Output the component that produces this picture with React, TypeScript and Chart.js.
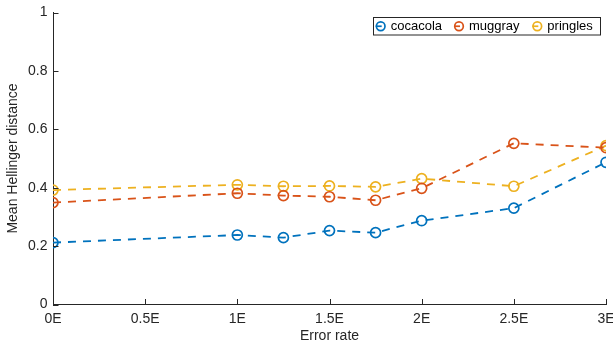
import React, { useEffect, useRef } from "react";
import { Chart, registerables } from "chart.js";

Chart.register(...registerables);

const errorRates = [0, 1, 1.25, 1.5, 1.75, 2, 2.5, 3];
const cocacola = [0.212, 0.238, 0.229, 0.253, 0.246, 0.287, 0.33, 0.487];
const muggray = [0.349, 0.381, 0.373, 0.369, 0.357, 0.398, 0.552, 0.537];
const pringles = [0.392, 0.41, 0.405, 0.406, 0.403, 0.431, 0.405, 0.544];
const seriesNames = ["cocacola", "muggray", "pringles"];
const seriesColors = ["#0072BD", "#D95319", "#EDB120"];

const FONT = "'Liberation Sans', Arial, Helvetica, sans-serif";
const AXIS = "#262626";

const tickMarks = {
  id: "tickMarks",
  afterDraw(chart: any) {
    const { ctx, chartArea } = chart;
    const xs = chart.scales.x;
    const ys = chart.scales.y;
    ctx.save();
    ctx.strokeStyle = AXIS;
    ctx.lineWidth = 1;
    ctx.beginPath();
    xs.ticks.forEach((t: any) => {
      const px = Math.round(xs.getPixelForValue(t.value)) + 0.5;
      ctx.moveTo(px, chartArea.bottom);
      ctx.lineTo(px, chartArea.bottom - 5.5);
    });
    ys.ticks.forEach((t: any) => {
      const py = Math.round(ys.getPixelForValue(t.value)) + 0.5;
      ctx.moveTo(chartArea.left, py);
      ctx.lineTo(chartArea.left + 5.5, py);
    });
    ctx.stroke();
    ctx.restore();
  },
};

const boxLegend = {
  id: "boxLegend",
  afterDatasetsDraw(chart: any) {
    const { ctx } = chart;
    const ds = chart.data.datasets;
    ctx.save();
    ctx.font = `13px ${FONT}`;
    const maxW = Math.max(...ds.map((d: any) => ctx.measureText(d.label).width));
    const pitch = maxW + 27;
    const boxL = 373.5;
    const boxT = 17.5;
    const boxR = 600.5;
    const boxB = 35;
    ctx.fillStyle = "#ffffff";
    ctx.fillRect(boxL, boxT, boxR - boxL, boxB - boxT);
    ctx.strokeStyle = AXIS;
    ctx.lineWidth = 1;
    ctx.strokeRect(boxL, boxT, boxR - boxL, boxB - boxT);
    const cy = (boxT + boxB) / 2;
    ds.forEach((d: any, i: number) => {
      const cx = 380.7 + i * pitch;
      ctx.strokeStyle = d.borderColor;
      ctx.lineWidth = 1.7;
      ctx.beginPath();
      ctx.moveTo(cx - 5, cy);
      ctx.lineTo(cx + 1, cy);
      ctx.stroke();
      ctx.beginPath();
      ctx.arc(cx, cy, 4.3, 0, Math.PI * 2);
      ctx.stroke();
      ctx.fillStyle = "#000000";
      ctx.textBaseline = "middle";
      ctx.textAlign = "left";
      ctx.fillText(d.label, cx + 10, cy + 0.5);
    });
    ctx.restore();
  },
};

export default function App() {
  const ref = useRef<HTMLCanvasElement | null>(null);

  useEffect(() => {
    document.body.style.margin = "0";
    const values = [cocacola, muggray, pringles];
    const datasets = values.map((vals, i) => ({
      label: seriesNames[i],
      data: errorRates.map((x, j) => ({ x, y: vals[j] })),
      borderColor: seriesColors[i],
      backgroundColor: "rgba(0,0,0,0)",
      borderWidth: 1.8,
      borderDash: [8, 7],
      pointRadius: 5,
      pointBorderWidth: 1.7,
      pointBackgroundColor: "rgba(0,0,0,0)",
      pointBorderColor: seriesColors[i],
      pointStyle: "circle",
      tension: 0,
      fill: false,
    }));
    const chart = new Chart(ref.current as HTMLCanvasElement, {
      type: "line",
      data: { datasets },
      options: {
        animation: false,
        responsive: false,
        maintainAspectRatio: false,
        layout: { padding: { top: 12.5, right: 7, left: 0, bottom: 0 } },
        plugins: {
          legend: { display: false },
          tooltip: { enabled: false },
        },
        scales: {
          x: {
            type: "linear",
            min: 0,
            max: 3,
            grid: { display: false, drawTicks: false },
            border: { display: true, color: AXIS, width: 1 },
            ticks: {
              stepSize: 0.5,
              padding: 6,
              color: AXIS,
              font: { family: FONT, size: 14 },
              maxRotation: 0,
              callback: (v: any) => `${+Number(v).toFixed(2)}E`,
            },
            title: {
              display: true,
              text: "Error rate",
              color: AXIS,
              font: { family: FONT, size: 14 },
              padding: { top: 0, bottom: 1.6 },
            },
            afterFit: (s: any) => {
              s.height = 41.5;
              s.paddingRight = 0;
              s.paddingLeft = 0;
            },
          },
          y: {
            type: "linear",
            min: 0,
            max: 1,
            grid: { display: false, drawTicks: false },
            border: { display: true, color: AXIS, width: 1 },
            ticks: {
              stepSize: 0.2,
              padding: 5.5,
              color: AXIS,
              font: { family: FONT, size: 14 },
              callback: (v: any) => `${+Number(v).toFixed(1)}`,
            },
            title: {
              display: true,
              text: "Mean Hellinger distance",
              color: AXIS,
              font: { family: FONT, size: 14 },
              padding: { top: 5, bottom: 0 },
            },
            afterFit: (s: any) => {
              s.width = 53;
              s.paddingTop = 0;
              s.paddingBottom = 0;
            },
          },
        },
      },
      plugins: [tickMarks, boxLegend],
    });
    return () => chart.destroy();
  }, []);

  return (
    <div style={{ width: 613, height: 346, background: "#ffffff" }}>
      <canvas ref={ref} width={613} height={346} style={{ display: "block" }} />
    </div>
  );
}
